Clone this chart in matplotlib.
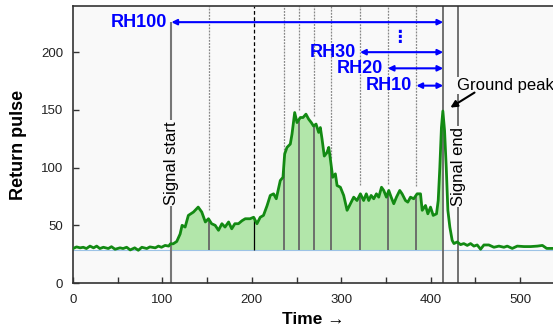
import matplotlib.pyplot as plt
import numpy as np
from matplotlib.patches import Rectangle
from matplotlib.ticker import MultipleLocator

plt.rcParams['font.family'] = ['Liberation Sans', 'DejaVu Sans']

# waveform
time = [0, 4, 8, 11.5, 15, 19, 23, 26.5, 30, 34, 39.5, 43, 47, 52.6, 56, 60, 64, 69, 73, 77,
        82.5, 86, 92, 95.5, 99, 103, 107, 109, 112, 116, 119.8, 122, 125.4, 129, 134.7, 140,
        144, 148, 151.5, 155, 159, 162.7, 166.5, 170, 174, 177.5, 181, 185, 189, 192.6, 196,
        198, 202, 205.7, 209.4, 213, 217, 220.6, 224.3, 227.3, 231.8, 234.8, 236.7, 239.3,
        243, 244.9, 247.9, 250.5, 254.2, 257.2, 260.5, 263.5, 266.5, 269, 271.8, 274.7, 276.6,
        278.5, 281, 284, 286, 287.8, 290.4, 293.4, 295.3, 299, 302.7, 306.5, 310.2, 313.9,
        317.6, 321.4, 325, 328, 330.7, 333.4, 336.3, 339.3, 341.9, 345, 347.5, 350.5, 353.1,
        355.8, 358.7, 361.7, 365.4, 368, 371.8, 374.4, 377.4, 381, 384.8, 388.6, 390.5, 394.2,
        396.8, 399.8, 402.8, 406.5, 408.4, 410.2, 412, 413.6, 415.5, 417.4, 419.2, 421.4, 424,
        426, 429.7, 433.4, 437, 440.9, 444.6, 448.3, 452, 455.8, 459.5, 465, 470.7, 476.3,
        481.9, 485.6, 491.2, 496.8, 504.3, 511.8, 519.3, 524.9, 529.7, 536, 540]
pulse = [29.9, 31.3, 30.5, 31, 29.9, 32, 30.5, 32, 29.9, 31, 29.9, 31.5, 29.3, 30.5, 29.9, 31,
         28.7, 30.5, 28.4, 31, 29.9, 31.3, 30.5, 32, 31, 32.6, 32, 34, 34, 36, 42.5, 50, 48.5,
         58.6, 61.5, 65.8, 61.5, 52.9, 55.7, 51.4, 50, 45.7, 51.4, 48.5, 52.9, 47, 51.4, 51.4,
         54, 55.7, 55.7, 55.7, 57, 51.4, 57, 58.6, 67, 75.9, 77.3, 73, 88.8, 91.6, 111.8, 117.5,
         120.4, 129, 147.7, 139, 143.4, 143.4, 146.3, 142, 139, 136, 137.7, 130.5, 134.7, 124.7,
         110, 113, 117.5, 107.5, 91.6, 94.6, 84.5, 83, 75.9, 63, 68.7, 74.4, 71.5, 77.3, 71.5,
         77.3, 71.5, 75.9, 73, 77.3, 74.4, 83, 80.2, 74.4, 80.2, 74.4, 68.7, 74.4, 80.2, 77.3,
         71.5, 70.1, 74.4, 73, 77.3, 77.3, 63, 67.2, 60, 65.8, 58.6, 60, 71.5, 100, 134.7, 149,
         132, 100, 63, 48.5, 37, 34.2, 35.6, 33.3, 34.2, 32.6, 34.2, 32, 33, 29.3, 33, 33, 31,
         32, 31, 32, 30, 32, 31.6, 31.6, 32, 32.6, 30, 30, 30]

baseline = 29
signal_start = 110
ground_peak = 414
signal_end = 430
rh_times = [152, 202, 236, 253, 270, 289, 321, 352, 384]
rh_labels = ['RH100', 'RH30', 'RH20', 'RH10']
rh_starts = [110, 321, 352, 384]
rh_levels = [226, 200, 186, 171]

t = np.array(time)
p = np.array(pulse)
ymax = 240
bg = '#f9f9f9'

fig = plt.figure(figsize=(5.53, 3.33), dpi=100)
ax = fig.add_axes([0.132, 0.150, 0.870, 0.832])
ax.set_facecolor(bg)

# filled return energy between signal start and ground peak
fill = ax.fill_between(t, p, baseline, color='#b2e6aa', lw=0, zorder=1)
fill.set_clip_path(Rectangle((signal_start, 0), ground_peak - signal_start, ymax,
                             transform=ax.transData))
ax.axhline(baseline, color='#9dc3e6', lw=0.8, zorder=1)

# RH lines: solid below the waveform, dotted above it
for x in rh_times:
    yc = np.interp(x, t, p)
    c = 'black' if x == 202 else '#666666'
    ls = (0, (3, 2)) if x == 202 else (0, (1.5, 1))
    ax.vlines(x, baseline, yc, color=c, lw=1.3 if x != 202 else 0.9, zorder=2)
    ax.vlines(x, yc + 8, ymax, color=c if x == 202 else '#888888', lw=0.9, ls=ls, zorder=2)

ax.vlines(signal_start, 0, rh_levels[0], color='#777777', lw=1.5, zorder=2)
ax.vlines([ground_peak, signal_end], 0, ymax, color='#666666', lw=1.3, zorder=2)

ax.plot(t, p, color='#138a13', lw=2, zorder=3)

# arrows for the relative heights
for lab, x0, y0 in zip(rh_labels, rh_starts, rh_levels):
    ax.annotate('', xy=(ground_peak, y0), xytext=(x0, y0),
                arrowprops=dict(arrowstyle='<|-|>', color='#0000ff', lw=1.5,
                                mutation_scale=8, shrinkA=0, shrinkB=0), zorder=4)
    ax.text(x0 - 5, y0, lab, color='#0000ff', fontsize=13, fontweight='bold',
            ha='right', va='center', zorder=4)
ax.text(365, 213, '\u22ee', color='#0000ff', fontsize=12, fontweight='bold',
        ha='center', va='center', family=['DejaVu Sans'])

tb = dict(facecolor=bg, edgecolor='none', pad=1)
ax.text(signal_start, 104, 'Signal start', rotation=90, fontsize=12,
        ha='center', va='center', bbox=tb, zorder=5)
ax.text(signal_end + 1, 101, 'Signal end', rotation=90, fontsize=12,
        ha='center', va='center', bbox=tb, zorder=5)
ax.text(429, 171, 'Ground peak', fontsize=12, ha='left', va='center', bbox=tb, zorder=5)
ax.annotate('', xy=(422, 152), xytext=(449, 165),
            arrowprops=dict(arrowstyle='-|>', color='black', lw=1.5,
                            mutation_scale=10, shrinkA=0, shrinkB=0), zorder=6)

ax.set_xlim(0, 538)
ax.set_ylim(0, ymax)
ax.xaxis.set_major_locator(MultipleLocator(100))
ax.xaxis.set_minor_locator(MultipleLocator(50))
ax.yaxis.set_major_locator(MultipleLocator(50))
ax.set_yticks([0, 50, 100, 150, 200])
ax.tick_params(which='both', direction='in', length=4, width=1, color='#333333',
               labelsize=9.5, labelcolor='#222222')
ax.tick_params(axis='x', pad=8)
ax.tick_params(axis='y', pad=7)
for s in ax.spines.values():
    s.set_color('#333333')
    s.set_linewidth(1.2)
ax.spines['right'].set_visible(False)

ax.set_xlabel('Time \u2192', fontsize=12.5, fontweight='bold', labelpad=4)
ax.set_ylabel('Return pulse', fontsize=13, fontweight='bold', labelpad=10)

plt.savefig('out.png', dpi=100)
